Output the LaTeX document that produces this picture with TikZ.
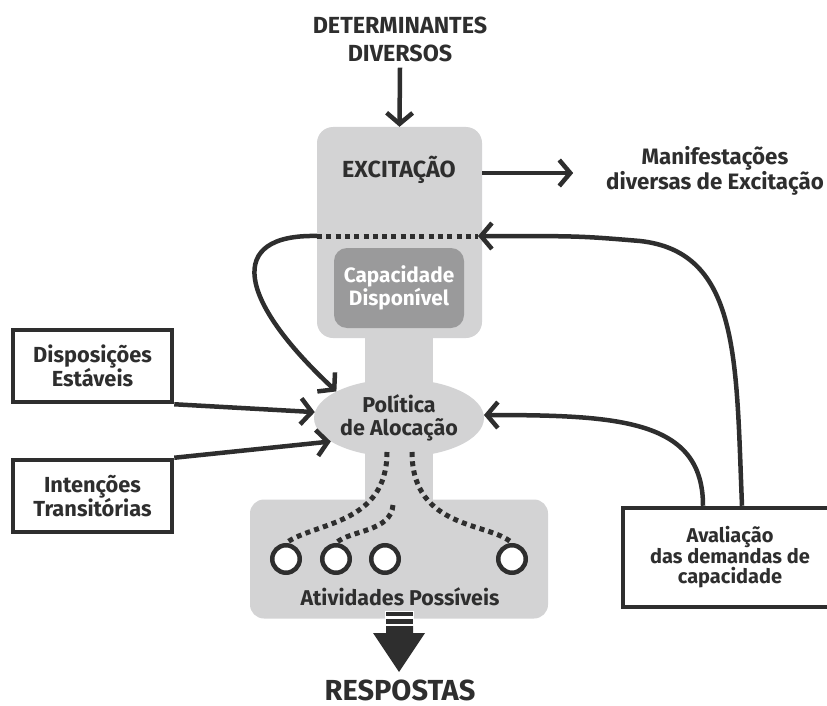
\documentclass[tikz,border=0pt]{standalone}
\usepackage{fontspec}
\setmainfont{Fira Sans}
\usetikzlibrary{arrows.meta,shapes.geometric}
\definecolor{ink}{HTML}{2E2E2E}
\definecolor{pale}{HTML}{D3D3D4}
\definecolor{mid}{HTML}{9A9A9B}
\begin{document}
\begin{tikzpicture}[x=1pt,y=-1pt,
  txt/.style={font=\fontsize{22.3}{23}\selectfont\bfseries, text=ink, align=center, inner sep=0pt},
  frame/.style={draw=ink, line width=4.5pt, fill=white, minimum width=159pt, minimum height=72pt,
                font=\fontsize{21.8}{24}\selectfont\bfseries, text=ink, align=center},
  link/.style={draw=ink, line width=4.5pt, -{Straight Barb[length=11pt,width=26pt]}},
  dots/.style={draw=ink, line width=5pt, dash pattern=on 5pt off 4.3pt},
  hole/.style={circle, draw=ink, line width=4.5pt, fill=white, minimum size=27.5pt, inner sep=0pt},
]
\useasboundingbox (0,0) rectangle (827,706);

% grey body: stem, excitation block, activity block
\fill[pale] (365,330) rectangle (433,505);
\node[fill=pale, rounded corners=16pt, minimum width=165pt, minimum height=211pt, inner sep=0pt] (exc) at (399.5,232.5) {};
\node[fill=pale, rounded corners=14pt, minimum width=298pt, minimum height=119pt, inner sep=0pt] (act) at (399,559) {};
\node[ellipse, fill=pale, minimum width=170pt, minimum height=78pt, inner sep=0pt,
      font=\fontsize{21.5}{23}\selectfont\bfseries, text=ink, align=center] (pol) at (399,418) {Política\\de Alocação};
\node[fill=mid, rounded corners=13pt, minimum width=130pt, minimum height=80pt, inner sep=0pt,
      font=\fontsize{20.8}{20}\selectfont\bfseries, text=white, align=center] (cap) at (399,288) {Capacidade\\Disponível};

% labels
\node[txt, font=\fontsize{23.3}{28}\selectfont\bfseries] (det) at (400,39) {DETERMINANTES\\DIVERSOS};
\node[txt, font=\fontsize{23.3}{26}\selectfont\bfseries] (excl) at (399,170) {EXCITAÇÃO};
\node[txt] (man) at (715,171) {Manifestações\\diversas de Excitação};
\node[txt, font=\fontsize{21.4}{23}\selectfont\bfseries] (ativ) at (400,597) {Atividades Possíveis};
\node[txt, font=\fontsize{29}{30}\selectfont\bfseries, anchor=base] (resp) at (400,700) {RESPOSTAS};

% dotted boundary of available capacity
\coordinate (dl) at (317,236);
\coordinate (dr) at (478,236);
\draw[dots] (dl) -- (dr);

% external boxes
\node[frame] (disp) at (92.5,366) {Disposições\\Estáveis};
\node[frame] (int) at (92.5,496) {Intenções\\Transitórias};
\node[frame, minimum width=214pt, minimum height=99pt, font=\fontsize{20}{20.5}\selectfont\bfseries] (aval) at (730,557.5) {Avaliação\\das demandas de\\capacidade};

% activities
\node[hole] (c1) at (286,559) {};
\node[hole] (c2) at (336,559) {};
\node[hole] (c3) at (385,559) {};
\node[hole] (c4) at (512,559) {};

% allocation paths
\coordinate (sL) at (387,452);
\coordinate (sM) at (393,505);
\coordinate (sR) at (412,452);
\draw[dots] (sL) .. controls (387,525) and (315,522) .. (c1.north);
\draw[dots] (sM) .. controls (391,532) and (350,530) .. (c2.north);
\draw[dots] (sR) .. controls (412,530) and (490,522) .. (c4.north);

% arrows
\draw[link] ([yshift=-6pt]det.south) -- (exc.north);
\draw[link] ([yshift=-3pt]exc.east |- excl.center) -- ++(91,0);
\draw[link] (dl) .. controls (225,234) and (238,300) .. (pol.157);
\draw[link] (disp.south east) -- (pol.176);
\draw[link] (int.north east) -- (pol.199);
\draw[link] ([xshift=-27pt]aval.north) .. controls (703,420) and (620,415) .. (pol.2);
\draw[link] ([xshift=12pt]aval.north) .. controls (736,360) and (740,252) .. (640,241)
            .. controls (580,236) .. (dr);

% output arrow
\fill[white] (385,611) rectangle (414,626);
\fill[ink] (386,612) rectangle (413,616);
\fill[ink] (386,618.5) rectangle (413,623.5);
\fill[ink] (386,626) -- (413,626) -- (413,633) -- (425,633) -- (399,672) -- (373,633) -- (386,633) -- cycle;
\end{tikzpicture}
\end{document}
